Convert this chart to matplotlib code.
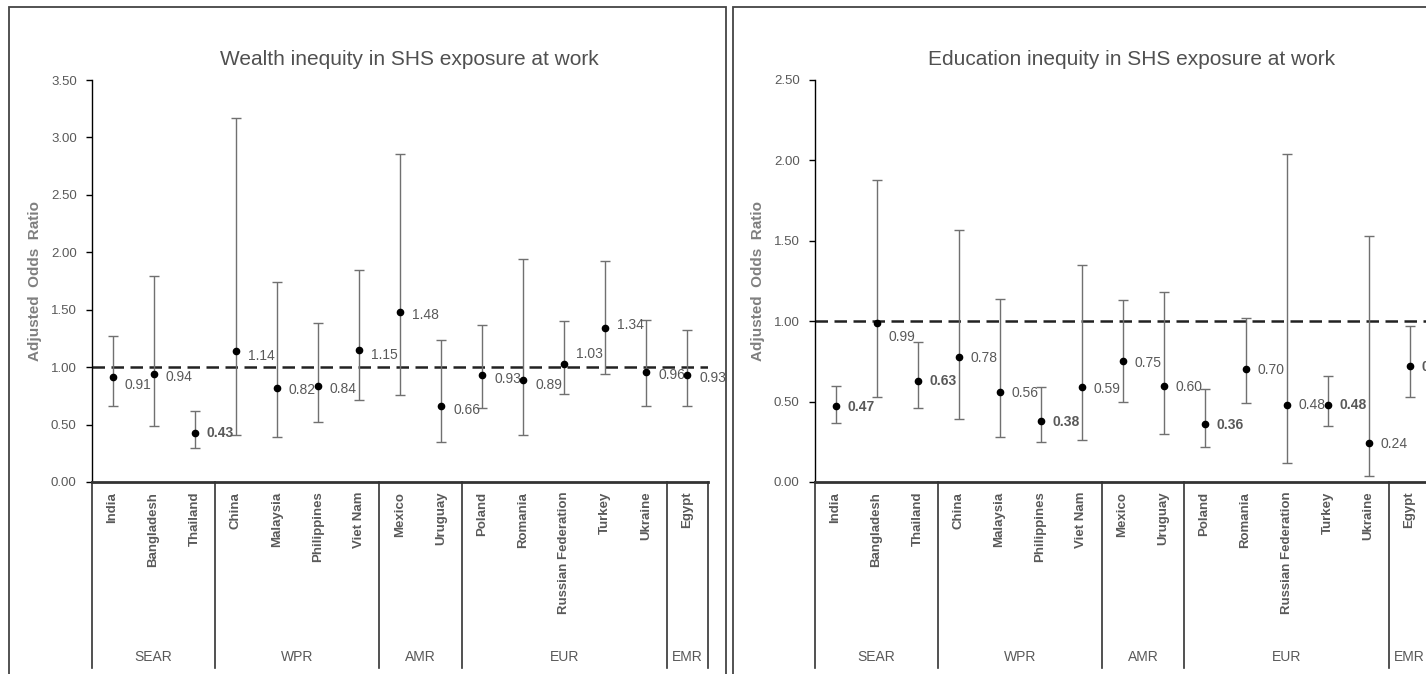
import numpy as np
import matplotlib.pyplot as plt
from matplotlib.patches import Rectangle
import matplotlib.transforms as mtransforms

plt.rcParams['font.family'] = ['Liberation Sans', 'DejaVu Sans']

# datos comunes
paises = ['India', 'Bangladesh', 'Thailand', 'China', 'Malaysia', 'Philippines',
          'Viet Nam', 'Mexico', 'Uruguay', 'Poland', 'Romania',
          'Russian Federation', 'Turkey', 'Ukraine', 'Egypt']
regiones = ['SEAR', 'WPR', 'AMR', 'EUR', 'EMR']
n_por_region = [3, 4, 2, 5, 1]

# riqueza (panel izquierdo)
aor_riqueza = [0.91, 0.94, 0.43, 1.14, 0.82, 0.84, 1.15, 1.48, 0.66, 0.93, 0.89, 1.03, 1.34, 0.96, 0.93]
inf_riqueza = [0.66, 0.49, 0.30, 0.41, 0.39, 0.52, 0.71, 0.76, 0.35, 0.64, 0.41, 0.77, 0.94, 0.66, 0.66]
sup_riqueza = [1.27, 1.79, 0.62, 3.17, 1.74, 1.38, 1.85, 2.86, 1.24, 1.37, 1.94, 1.40, 1.92, 1.41, 1.32]

# educacion (panel derecho)
aor_educ = [0.47, 0.99, 0.63, 0.78, 0.56, 0.38, 0.59, 0.75, 0.60, 0.36, 0.70, 0.48, 0.48, 0.24, 0.72]
inf_educ = [0.37, 0.53, 0.46, 0.39, 0.28, 0.25, 0.26, 0.50, 0.30, 0.22, 0.49, 0.12, 0.35, 0.04, 0.53]
sup_educ = [0.60, 1.88, 0.87, 1.57, 1.14, 0.59, 1.35, 1.13, 1.18, 0.58, 1.02, 2.04, 0.66, 1.53, 0.97]

# desplazamiento vertical de las etiquetas (pixeles)
dy_riqueza = [-8, -3, 0, -5, -2, -3, -5, -3, -4, -4, -5, 10, 3, -3, -3]
dy_educ = [-1, -14, 0, -1, -1, -1, -2, -2, -1, -1, -1, 0, 0, -1, -1]

GRIS = '#595959'
W, H = 1426, 674


def panel(ax, aor, inf, sup, dy, ymax, titulo):
    x = np.arange(len(paises))
    aor = np.array(aor)
    err = [aor - np.array(inf), np.array(sup) - aor]
    ax.errorbar(x, aor, yerr=err, fmt='o', color='black', ms=4.5,
                ecolor='#707070', elinewidth=1, capsize=3.5, capthick=1, zorder=3)
    ax.axhline(1.0, color='#222222', lw=1.8, dashes=(5, 2.6), zorder=2)
    for xi, v, lo, hi, d in zip(x, aor, inf, sup, dy):
        negrita = hi < 1 or lo > 1
        ax.annotate(f'{v:.2f}', (xi, v), xytext=(12, d), textcoords='offset pixels',
                    ha='left', va='center', fontsize=10, color=GRIS,
                    fontweight='bold' if negrita else 'normal', clip_on=False)

    ax.set_xlim(-0.5, len(paises) - 0.5)
    ax.set_ylim(0, ymax)
    ticks = np.arange(0, ymax + 0.01, 0.5)
    ax.set_yticks(ticks)
    ax.set_yticklabels([f'{t:.2f}' for t in ticks])
    ax.set_xticks(x)
    ax.set_xticklabels(paises, rotation=90, fontweight='bold', fontsize=9.5,
                       color=GRIS, va='top')
    ax.tick_params(axis='x', length=0, pad=7)
    ax.tick_params(axis='y', length=4, width=1, colors='black', labelcolor=GRIS,
                   labelsize=9.5, direction='out', pad=7)
    for s in ['top', 'right']:
        ax.spines[s].set_visible(False)
    ax.spines['left'].set_linewidth(1)
    ax.spines['bottom'].set_linewidth(2)
    ax.spines['bottom'].set_color('#333333')

    ax.set_title(titulo, fontsize=15, color='#505050', pad=11, x=0.515)
    ax.set_ylabel('Adjusted  Odds  Ratio', fontsize=11, fontweight='bold', color='#7f7f7f')
    ax.yaxis.set_label_coords(-50 / 616, 0.5)

    # lineas de grupos de region bajo el eje
    trans = mtransforms.blended_transform_factory(ax.transData, ax.transAxes)
    bordes = np.concatenate([[0], np.cumsum(n_por_region)]) - 0.5
    abajo = -(668 - 482) / 402
    for b in bordes:
        ax.plot([b, b], [0, abajo], color='#333333', lw=1.2, transform=trans, clip_on=False)
    for r, a, b in zip(regiones, bordes[:-1], bordes[1:]):
        ax.text((a + b) / 2, -(657 - 482) / 402, r, transform=trans, ha='center',
                va='center', fontsize=10, color=GRIS)


fig = plt.figure(figsize=(W / 100, H / 100), dpi=100)
fondo_y = 1 - 482 / H
alto = 402 / H

ax1 = fig.add_axes([92 / W, fondo_y, 616 / W, alto])
panel(ax1, aor_riqueza, inf_riqueza, sup_riqueza, dy_riqueza, 3.5,
      'Wealth inequity in SHS exposure at work')

ax2 = fig.add_axes([815 / W, fondo_y, 615 / W, alto])
panel(ax2, aor_educ, inf_educ, sup_educ, dy_educ, 2.5,
      'Education inequity in SHS exposure at work')

# marcos de los paneles
fig.add_artist(Rectangle((9 / W, -0.02), (726 - 9) / W, 1.02 - 7 / H, transform=fig.transFigure,
                         fill=False, ec='#444444', lw=1.3))
fig.add_artist(Rectangle((733 / W, -0.02), 0.6, 1.02 - 7 / H, transform=fig.transFigure,
                         fill=False, ec='#444444', lw=1.3))

fig.savefig('out.png', dpi=100)
